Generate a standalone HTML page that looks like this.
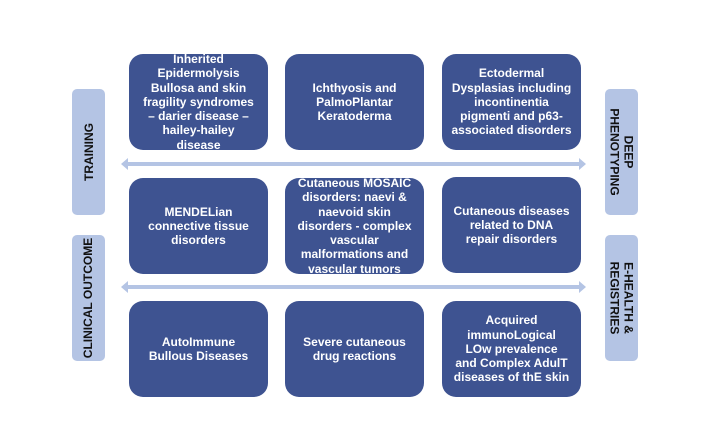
<!DOCTYPE html>
<html><head><style>
body{margin:0;width:725px;height:439px;background:#fff;position:relative;overflow:hidden;font-family:"Liberation Sans",Arial,sans-serif}
.b{position:absolute;width:139px;height:96px;background:#3e5391;border-radius:14px;color:#fff;font-weight:bold;font-size:12px;line-height:14.3px;text-align:center;display:flex;align-items:center;justify-content:center;box-sizing:border-box;padding:0 2px;white-space:nowrap}
.s{position:absolute;width:33px;height:126px;background:#b4c4e4;border-radius:5px;display:flex;align-items:center;justify-content:center}
.s span{font-weight:bold;font-size:12px;line-height:14px;color:#111;white-space:nowrap;text-align:center}
.l span{transform:rotate(-90deg)}
.r span{transform:rotate(90deg)}
</style></head><body>
<div class="s l" style="left:72px;top:89px"><span>TRAINING</span></div>
<div class="s l" style="left:72px;top:235px"><span>CLINICAL OUTCOME</span></div>
<div class="s r" style="left:605px;top:89px"><span>DEEP<br>PHENOTYPING</span></div>
<div class="s r" style="left:605px;top:235px"><span>E-HEALTH &amp;<br>REGISTRIES</span></div>
<svg style="position:absolute;left:0;top:0" width="725" height="439">
<g fill="#b4c4e4">
<polygon points="121,164 128,158 128,162 579,162 579,158 586,164 579,170 579,166 128,166 128,170"/>
<polygon points="121,287 128,281 128,285 579,285 579,281 586,287 579,293 579,289 128,289 128,293"/>
</g></svg>
<div class="b" style="left:129px;top:54px">Inherited<br>Epidermolysis<br>Bullosa and skin<br>fragility syndromes<br>– darier disease –<br>hailey-hailey<br>disease</div>
<div class="b" style="left:285px;top:54px">Ichthyosis and<br>PalmoPlantar<br>Keratoderma</div>
<div class="b" style="left:442px;top:54px">Ectodermal<br>Dysplasias including<br>incontinentia<br>pigmenti and p63-<br>associated disorders</div>
<div class="b" style="left:129px;top:178px">MENDELian<br>connective tissue<br>disorders</div>
<div class="b" style="left:285px;top:178px">Cutaneous MOSAIC<br>disorders: naevi &amp;<br>naevoid skin<br>disorders - complex<br>vascular<br>malformations and<br>vascular tumors</div>
<div class="b" style="left:442px;top:177px">Cutaneous diseases<br>related to DNA<br>repair disorders</div>
<div class="b" style="left:129px;top:301px">AutoImmune<br>Bullous Diseases</div>
<div class="b" style="left:285px;top:301px">Severe cutaneous<br>drug reactions</div>
<div class="b" style="left:442px;top:301px">Acquired<br>immunoLogical<br>LOw prevalence<br>and Complex AdulT<br>diseases of thE skin</div>
</body></html>
